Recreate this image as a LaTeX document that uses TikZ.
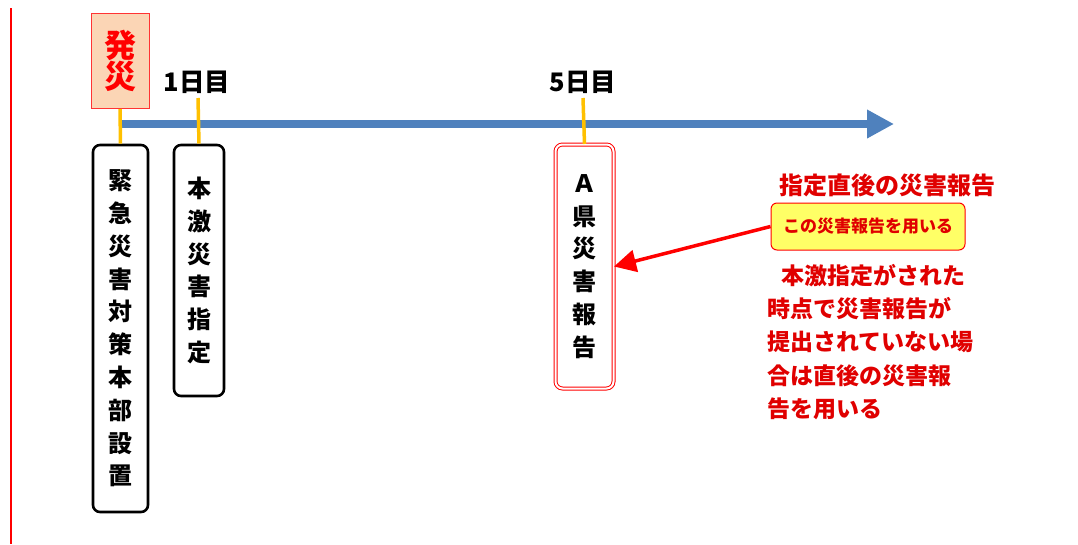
\documentclass[tikz,border=0pt]{standalone}
\usepackage{fontspec}
\newfontfamily\cjk{Noto Sans CJK JP}
\usetikzlibrary{arrows.meta}
\definecolor{tlblue}{HTML}{4F81BD}
\definecolor{tick}{HTML}{FFC000}
\definecolor{peach}{HTML}{FBD5B5}
\definecolor{note}{HTML}{FFFF66}
\definecolor{myred}{HTML}{FF0000}
\definecolor{txtred}{HTML}{E00000}
\tikzset{
  evbox/.style={draw=black, line width=2.6pt, rounded corners=7pt, fill=white, inner sep=0pt,
    font=\cjk\bfseries\fontsize{24}{32.8}\selectfont, align=center},
  ticklbl/.style={font=\cjk\bfseries\fontsize{25.5}{28}\selectfont, inner sep=0pt},
  tickline/.style={draw=tick, line width=3.5pt},
}
\begin{document}
\begin{tikzpicture}[x=1pt,y=-1pt]
\useasboundingbox (0,0) rectangle (1078,544);
% left red line
\draw[myred, line width=2.6pt] (11,8) -- (11,544);
% timeline
\coordinate (tl0) at (122,124);
\coordinate (tl1) at (894,124);
\draw[tlblue, line width=8pt, -{Triangle[length=27pt,width=27pt]}] (tl0) -- (tl1);
% 発災
\node[draw=myred!80, line width=1pt, fill=peach, minimum width=58pt, minimum height=95pt, inner sep=0pt,
  text=myred, font=\cjk\bfseries\fontsize{32}{31}\selectfont, align=center] (hassai) at (120,61) {発\\災};
% tick labels
\node[ticklbl] (d1) at (197,82) {1日目};
\node[ticklbl] (d5) at (583,82) {5日目};
\coordinate (t1) at (198,98);
\coordinate (t5) at (583,98);
% boxes
\node[evbox, minimum width=55pt, minimum height=367pt] (b1) at (120.5,328.5)
  {緊\\急\\災\\害\\対\\策\\本\\部\\設\\置};
\node[evbox, minimum width=50pt, minimum height=251pt] (b2) at (199,270.5)
  {本\\激\\災\\害\\指\\定};
\node[draw=myred, line width=1pt, double=white, double distance=2pt, rounded corners=7pt, fill=white,
  minimum width=58pt, minimum height=244pt, inner sep=0pt,
  font=\cjk\bfseries\fontsize{24}{32.8}\selectfont, align=center] (b3) at (584.5,266.5)
  {Ａ\\県\\災\\害\\報\\告};
% ticks
\draw[tickline] (hassai.south) -- (b1.north);
\draw[tickline] (t1) -- (b2.north);
\draw[tickline] (t5) -- (b3.north);
% notes
\node[text=txtred, font=\cjk\bfseries\fontsize{24}{26}\selectfont, inner sep=0pt, anchor=west] (lbl) at (779,185) {指定直後の災害報告};
\node[draw=myred, line width=1pt, fill=note, rounded corners=6pt, minimum width=194pt, minimum height=47pt,
  inner sep=0pt, text=txtred, font=\cjk\bfseries\fontsize{17}{19}\selectfont] (use) at (868,226.5) {この災害報告を用いる};
\draw[myred, line width=3.5pt, -{Triangle[length=22pt,width=22pt]}] (use.west) -- (b3.east);
\node[text=txtred, font=\cjk\bfseries\fontsize{23}{33.3}\selectfont, align=left, inner sep=0pt, anchor=north west] (expl) at (767,264)
  {\hspace{0.6em}本激指定がされた\\時点で災害報告が\\提出されていない場\\合は直後の災害報\\告を用いる};
\end{tikzpicture}
\end{document}
